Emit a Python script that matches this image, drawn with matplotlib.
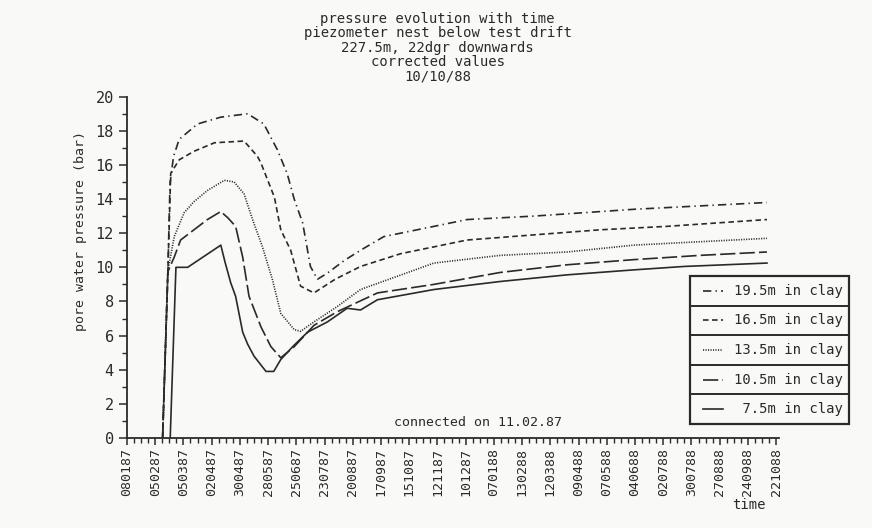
import numpy as np
import matplotlib.pyplot as plt
from matplotlib.lines import Line2D
from matplotlib.patches import Rectangle

plt.rcParams['font.family'] = ['DejaVu Sans Mono']
plt.rcParams['lines.scale_dashes'] = False

INK = '#2a2a2a'

# x values: weeks counted from 08.01.87
TICK_WEEKS = list(range(0, 93, 4))
TICK_LABELS = ["080187", "050287", "050387", "020487", "300487", "280587",
               "250687", "230787", "200887", "170987", "151087", "121187",
               "101287", "070188", "130288", "120388", "090488", "070588",
               "040688", "020788", "300788", "270888", "240988", "221088"]

W_195 = [5.05, 5.8, 6.1, 6.6, 7.4, 10.0, 13.3, 17.1, 19.4, 21.3, 22.7, 23.7,
         24.9, 26.0, 27.0, 28.4, 30.8, 33.1, 36.4, 43.5, 48.2, 57.6, 71.8, 90.7]
P_195 = [0, 9.8, 14.9, 16.5, 17.5, 18.4, 18.8, 19.0, 18.4, 16.9, 15.5, 14.0,
         12.6, 10.05, 9.3, 9.66, 10.4, 11.0, 11.8, 12.4, 12.8, 13.0, 13.4, 13.8]

W_165 = [5.05, 5.8, 6.2, 7.4, 9.5, 12.4, 16.6, 18.5, 19.0, 20.9, 21.8, 23.2,
         24.6, 26.5, 29.5, 33.1, 38.8, 48.2, 57.6, 67.1, 76.5, 90.7]
P_165 = [0, 9.8, 15.5, 16.3, 16.8, 17.3, 17.4, 16.5, 16.1, 14.1, 12.2, 11.0,
         8.9, 8.5, 9.3, 10.05, 10.8, 11.6, 11.9, 12.2, 12.4, 12.8]

W_135 = [5.05, 5.8, 6.7, 8.1, 9.5, 11.4, 13.8, 15.2, 16.6, 17.8, 19.2, 20.6,
         21.8, 23.7, 24.6, 26.5, 29.8, 33.1, 43.5, 52.9, 62.4, 71.8, 81.2, 90.7]
P_135 = [0, 9.8, 11.8, 13.2, 13.85, 14.5, 15.1, 15.0, 14.3, 12.8, 11.2, 9.3,
         7.3, 6.35, 6.25, 6.8, 7.7, 8.7, 10.25, 10.7, 10.9, 11.3, 11.5, 11.7]

W_105 = [5.05, 5.8, 6.7, 7.6, 9.5, 11.4, 13.3, 14.3, 15.4, 16.4, 17.3, 19.0,
         20.4, 21.8, 23.7, 26.5, 29.8, 35.5, 43.5, 52.9, 62.4, 71.8, 81.2, 90.7]
P_105 = [0, 9.75, 10.6, 11.6, 12.2, 12.8, 13.27, 12.9, 12.4, 10.6, 8.3, 6.5,
         5.35, 4.7, 5.35, 6.6, 7.4, 8.5, 9.0, 9.7, 10.15, 10.45, 10.7, 10.9]

W_75 = [6.13, 6.94, 8.6, 13.3, 13.9, 14.7, 15.4, 16.4, 17.1, 18.0, 19.7, 20.8,
        21.8, 23.6, 25.6, 28.4, 31.2, 33.1, 35.5, 43.5, 52.9, 62.4, 71.8, 78.9, 90.7]
P_75 = [0, 10.0, 10.0, 11.3, 10.3, 9.1, 8.3, 6.2, 5.5, 4.8, 3.9, 3.9,
        4.6, 5.4, 6.2, 6.8, 7.6, 7.5, 8.1, 8.7, 9.17, 9.56, 9.85, 10.05, 10.25]

SERIES = [
    ("19.5m in clay", W_195, P_195, (0, (6, 3, 1, 3))),
    ("16.5m in clay", W_165, P_165, (0, (4, 2.5))),
    ("13.5m in clay", W_135, P_135, (0, (0.8, 1.0))),
    ("10.5m in clay", W_105, P_105, (0, (11, 3))),
    (" 7.5m in clay", W_75, P_75, '-'),
]

fig = plt.figure(figsize=(8.72, 5.28), dpi=100, facecolor='#f9f9f7')
ax = fig.add_axes([0.1456, 0.1705, 0.7477, 0.6464])
ax.set_facecolor('#f9f9f7')

for label, w, p, ls in SERIES:
    ax.plot(w, p, color=INK, linestyle=ls, linewidth=1.2)

ax.set_xlim(0, 92.4)
ax.set_ylim(0, 20)
ax.spines['top'].set_visible(False)
ax.spines['right'].set_visible(False)
for s in ('left', 'bottom'):
    ax.spines[s].set_color(INK)
    ax.spines[s].set_linewidth(1.3)

ax.set_xticks(TICK_WEEKS)
ax.set_xticklabels(TICK_LABELS, rotation=90, fontsize=9.5, color=INK)
ax.set_xticks(np.arange(0, 93, 1), minor=True)
ax.set_yticks(np.arange(0, 21, 2))
ax.set_yticks(np.arange(0, 21, 1), minor=True)
ax.tick_params(axis='y', labelsize=11, colors=INK, length=6, width=1.1)
ax.tick_params(axis='x', colors=INK, length=5, width=1.1, pad=2)
ax.tick_params(which='minor', length=3.5, width=1.0, colors=INK)

fig.text(0.502, 0.978,
         "pressure evolution with time\n"
         "piezometer nest below test drift\n"
         "227.5m, 22dgr downwards\n"
         "corrected values\n"
         "10/10/88",
         ha='center', va='top', fontsize=10, linespacing=1.05, color=INK)

fig.text(0.092, 0.5625, "pore water pressure (bar)", rotation=90,
         ha='center', va='center', fontsize=9.5, color=INK)
fig.text(0.859, 0.043, "time", ha='center', va='center', fontsize=10, color=INK)
fig.text(0.548, 0.199, "connected on 11.02.87", ha='center', va='center',
         fontsize=9.5, color=INK)

# boxed legend with one row per depth
lx0, lx1 = 690 / 872, 849 / 872
ly_top, ly_bot = 1 - 276 / 528, 1 - 424 / 528
row_h = (ly_top - ly_bot) / len(SERIES)
fig.add_artist(Rectangle((lx0, ly_bot), lx1 - lx0, ly_top - ly_bot,
                         transform=fig.transFigure, fill=False,
                         edgecolor=INK, linewidth=1.6))
for i, (label, w, p, ls) in enumerate(SERIES):
    yc = ly_top - (i + 0.5) * row_h
    if i > 0:
        yl = ly_top - i * row_h
        fig.add_artist(Line2D([lx0, lx1], [yl, yl], transform=fig.transFigure,
                              color=INK, linewidth=1.4))
    fig.add_artist(Line2D([703 / 872, 723 / 872], [yc, yc],
                          transform=fig.transFigure, color=INK,
                          linestyle=ls, linewidth=1.2))
    fig.text(843 / 872, yc, label, ha='right', va='center', fontsize=10,
             color=INK)

fig.savefig("out.png", dpi=100, facecolor=fig.get_facecolor())
